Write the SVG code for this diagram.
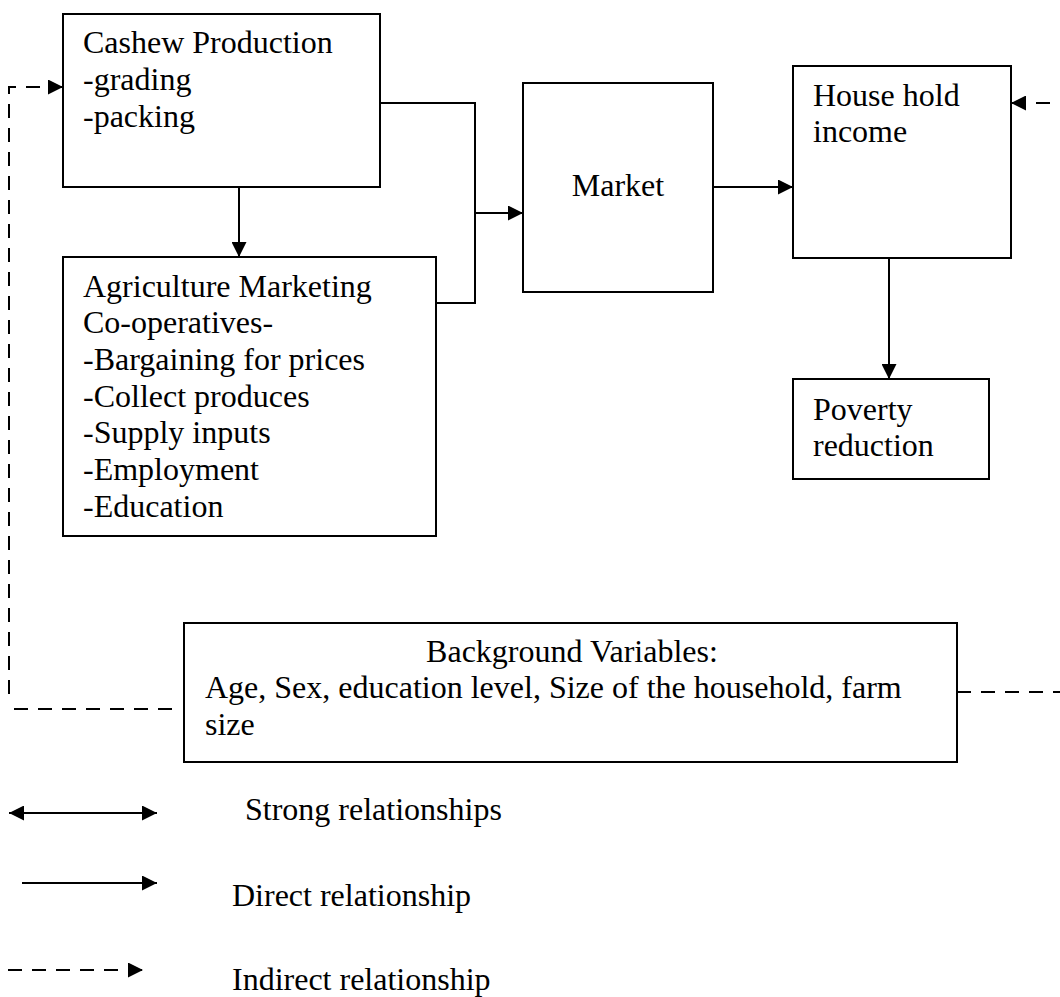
<svg xmlns="http://www.w3.org/2000/svg" width="1060" height="997" viewBox="0 0 1060 997">
<defs>
<marker id="ah" viewBox="0 0 15 15" markerWidth="15" markerHeight="15" refX="15" refY="7.5" orient="auto" markerUnits="userSpaceOnUse">
<path d="M0,0 L15,7.5 L0,15 z" fill="#000"/>
</marker>
<marker id="ahs" viewBox="0 0 15 15" markerWidth="15" markerHeight="15" refX="15" refY="7.5" orient="auto-start-reverse" markerUnits="userSpaceOnUse">
<path d="M0,0 L15,7.5 L0,15 z" fill="#000"/>
</marker>
</defs>
<style>
.box{fill:#fff;stroke:#000;stroke-width:2}
.t{font-family:"Liberation Serif","Times New Roman",serif;font-size:32px;fill:#000}
.ln{fill:none;stroke:#000;stroke-width:2}
.dash{fill:none;stroke:#000;stroke-width:2;stroke-dasharray:14 10}
</style>
<rect width="1060" height="997" fill="#fff"/>
<g id="connectors">
<polyline class="ln" points="380,103 475,103 475,303 436,303"/>
<line class="ln" x1="475" y1="213" x2="523" y2="213" marker-end="url(#ah)"/>
<line class="ln" x1="239" y1="187" x2="239" y2="257" marker-end="url(#ah)"/>
<line class="ln" x1="713" y1="187" x2="793" y2="187" marker-end="url(#ah)"/>
<line class="ln" x1="889" y1="258" x2="889" y2="379" marker-end="url(#ah)"/>
<line class="dash" x1="1060" y1="103" x2="1011" y2="103" marker-end="url(#ah)" stroke-dashoffset="-10"/>
<polyline class="dash" points="172,709 10,709"/>
<polyline class="dash" points="9,694 9,87 63,87" marker-end="url(#ah)"/>
<line class="dash" x1="957" y1="692" x2="1060" y2="692" stroke-dasharray="0 20 15 10"/>
</g>
<g id="cashew">
<rect class="box" x="63" y="14" width="317" height="173"/>
<text class="t" x="83" y="53">Cashew Production</text>
<text class="t" x="83" y="90">-grading</text>
<text class="t" x="83" y="127">-packing</text>
</g>
<g id="agri">
<rect class="box" x="63" y="257" width="373" height="279"/>
<text class="t" x="83" y="297">Agriculture Marketing</text>
<text class="t" x="83" y="333">Co-operatives-</text>
<text class="t" x="83" y="370">-Bargaining for prices</text>
<text class="t" x="83" y="407">-Collect produces</text>
<text class="t" x="83" y="443">-Supply inputs</text>
<text class="t" x="83" y="480">-Employment</text>
<text class="t" x="83" y="517">-Education</text>
</g>
<g id="market">
<rect class="box" x="523" y="83" width="190" height="209"/>
<text class="t" x="618" y="196" text-anchor="middle">Market</text>
</g>
<g id="household">
<rect class="box" x="793" y="66" width="218" height="192"/>
<text class="t" x="813" y="106">House hold</text>
<text class="t" x="813" y="142">income</text>
</g>
<g id="poverty">
<rect class="box" x="793" y="379" width="196" height="100"/>
<text class="t" x="813" y="420">Poverty</text>
<text class="t" x="813" y="456">reduction</text>
</g>
<g id="background">
<rect class="box" x="184" y="623" width="773" height="139"/>
<text class="t" x="572" y="662" text-anchor="middle">Background Variables:</text>
<text class="t" x="205" y="698">Age, Sex, education level, Size of the household, farm</text>
<text class="t" x="205" y="735">size</text>
</g>
<g id="legend">
<line class="ln" x1="9" y1="813" x2="157" y2="813" marker-start="url(#ahs)" marker-end="url(#ah)"/>
<line class="ln" x1="22" y1="883" x2="157" y2="883" marker-end="url(#ah)"/>
<line class="dash" x1="8" y1="970" x2="143" y2="970" marker-end="url(#ah)"/>
<text class="t" x="245" y="820">Strong relationships</text>
<text class="t" x="232" y="906">Direct relationship</text>
<text class="t" x="232" y="990">Indirect relationship</text>
</g>
</svg>
